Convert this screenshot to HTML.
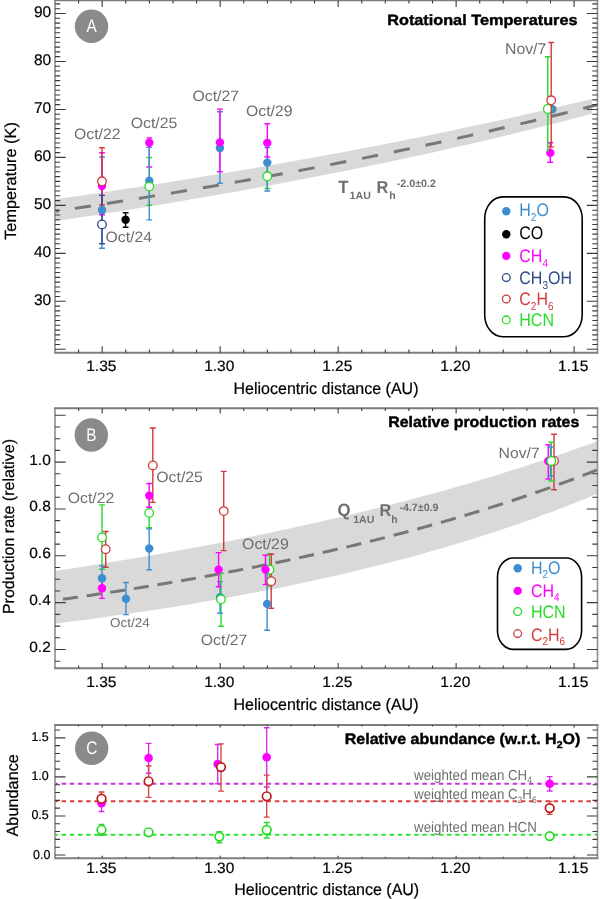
<!DOCTYPE html>
<html><head><meta charset="utf-8"><style>
html,body{margin:0;padding:0;background:#fff;width:600px;height:899px;overflow:hidden}
svg{display:block;will-change:transform;filter:blur(0.3px)}
text{font-family:"Liberation Sans", sans-serif;stroke-width:0.2px;text-rendering:geometricPrecision}
</style></head><body>
<svg width="600" height="899" viewBox="0 0 600 899" font-family='"Liberation Sans", sans-serif'>
<rect width="600" height="899" fill="#fff"/>
<path d="M55.00 199.41 L64.10 198.10 L73.20 196.78 L82.31 195.44 L91.41 194.10 L100.51 192.74 L109.61 191.38 L118.71 190.00 L127.81 188.61 L136.92 187.21 L146.02 185.80 L155.12 184.37 L164.22 182.94 L173.32 181.49 L182.42 180.03 L191.53 178.55 L200.63 177.07 L209.73 175.57 L218.83 174.06 L227.93 172.53 L237.03 171.00 L246.14 169.45 L255.24 167.88 L264.34 166.30 L273.44 164.71 L282.54 163.11 L291.64 161.49 L300.75 159.85 L309.85 158.21 L318.95 156.54 L328.05 154.87 L337.15 153.17 L346.25 151.47 L355.36 149.74 L364.46 148.00 L373.56 146.25 L382.66 144.48 L391.76 142.69 L400.86 140.89 L409.97 139.07 L419.07 137.24 L428.17 135.38 L437.27 133.51 L446.37 131.63 L455.47 129.72 L464.58 127.80 L473.68 125.86 L482.78 123.90 L491.88 121.92 L500.98 119.93 L510.08 117.91 L519.19 115.88 L528.29 113.83 L537.39 111.75 L546.49 109.66 L555.59 107.55 L564.69 105.42 L573.80 103.26 L582.90 101.09 L592.00 98.89 L592.00 113.84 L582.90 116.24 L573.80 118.61 L564.69 120.96 L555.59 123.28 L546.49 125.58 L537.39 127.86 L528.29 130.11 L519.19 132.34 L510.08 134.54 L500.98 136.73 L491.88 138.89 L482.78 141.02 L473.68 143.14 L464.58 145.24 L455.47 147.31 L446.37 149.36 L437.27 151.40 L428.17 153.41 L419.07 155.40 L409.97 157.37 L400.86 159.32 L391.76 161.26 L382.66 163.17 L373.56 165.07 L364.46 166.94 L355.36 168.80 L346.25 170.64 L337.15 172.46 L328.05 174.27 L318.95 176.05 L309.85 177.82 L300.75 179.58 L291.64 181.31 L282.54 183.03 L273.44 184.74 L264.34 186.42 L255.24 188.09 L246.14 189.75 L237.03 191.39 L227.93 193.01 L218.83 194.62 L209.73 196.22 L200.63 197.80 L191.53 199.36 L182.42 200.91 L173.32 202.45 L164.22 203.97 L155.12 205.48 L146.02 206.97 L136.92 208.45 L127.81 209.92 L118.71 211.38 L109.61 212.82 L100.51 214.25 L91.41 215.66 L82.31 217.06 L73.20 218.45 L64.10 219.83 L55.00 221.20Z" fill="#d9d9d9"/>
<path d="M55.00 211.34 L64.19 209.97 L73.37 208.60 L82.56 207.21 L91.75 205.81 L100.93 204.40 L110.12 202.97 L119.31 201.53 L128.49 200.08 L137.68 198.62 L146.86 197.14 L156.05 195.65 L165.24 194.15 L174.42 192.63 L183.61 191.10 L192.80 189.56 L201.98 188.00 L211.17 186.43 L220.36 184.84 L229.54 183.24 L238.73 181.62 L247.92 179.99 L257.10 178.34 L266.29 176.68 L275.47 175.01 L284.66 173.31 L293.85 171.61 L303.03 169.88 L312.22 168.14 L321.41 166.38 L330.59 164.61 L339.78 162.82 L348.97 161.01 L358.15 159.19 L367.34 157.35 L376.53 155.49 L385.71 153.61 L394.90 151.71 L404.08 149.80 L413.27 147.86 L422.46 145.91 L431.64 143.94 L440.83 141.95 L450.02 139.94 L459.20 137.91 L468.39 135.86 L477.58 133.79 L486.76 131.70 L495.95 129.58 L505.14 127.45 L514.32 125.29 L523.51 123.12 L532.69 120.92 L541.88 118.70 L551.07 116.45 L560.25 114.18 L569.44 111.89 L578.63 109.58 L587.81 107.24 L597.00 104.88" stroke="#777777" stroke-width="3" fill="none" stroke-dasharray="16.2 16.2" stroke-dashoffset="12.3"/>
<path d="M55 0.4V352.7M597.5 0.4V352.7" fill="none" stroke="#949494" stroke-width="1.7"/>
<path d="M54.15 0.4H598.35M54.15 352.7H598.35" fill="none" stroke="#7e7e7e" stroke-width="1.9"/>
<path d="M78.60 352.70V349.50M78.60 0.40V3.60M102.19 352.70V346.20M102.19 0.40V6.90M125.79 352.70V349.50M125.79 0.40V3.60M149.38 352.70V349.50M149.38 0.40V3.60M172.98 352.70V349.50M172.98 0.40V3.60M196.57 352.70V349.50M196.57 0.40V3.60M220.17 352.70V346.20M220.17 0.40V6.90M243.76 352.70V349.50M243.76 0.40V3.60M267.36 352.70V349.50M267.36 0.40V3.60M290.95 352.70V349.50M290.95 0.40V3.60M314.55 352.70V349.50M314.55 0.40V3.60M338.14 352.70V346.20M338.14 0.40V6.90M361.74 352.70V349.50M361.74 0.40V3.60M385.33 352.70V349.50M385.33 0.40V3.60M408.93 352.70V349.50M408.93 0.40V3.60M432.52 352.70V349.50M432.52 0.40V3.60M456.12 352.70V346.20M456.12 0.40V6.90M479.71 352.70V349.50M479.71 0.40V3.60M503.31 352.70V349.50M503.31 0.40V3.60M526.90 352.70V349.50M526.90 0.40V3.60M550.50 352.70V349.50M550.50 0.40V3.60M574.09 352.70V346.20M574.09 0.40V6.90M55 344.49H60.2M597.5 344.49H592.3M55 339.70H60.2M597.5 339.70H592.3M55 334.90H60.2M597.5 334.90H592.3M55 330.10H60.2M597.5 330.10H592.3M55 325.31H60.2M597.5 325.31H592.3M55 320.51H60.2M597.5 320.51H592.3M55 315.71H60.2M597.5 315.71H592.3M55 310.91H60.2M597.5 310.91H592.3M55 306.12H60.2M597.5 306.12H592.3M55 296.52H60.2M597.5 296.52H592.3M55 291.73H60.2M597.5 291.73H592.3M55 286.93H60.2M597.5 286.93H592.3M55 282.13H60.2M597.5 282.13H592.3M55 277.33H60.2M597.5 277.33H592.3M55 272.54H60.2M597.5 272.54H592.3M55 267.74H60.2M597.5 267.74H592.3M55 262.94H60.2M597.5 262.94H592.3M55 258.15H60.2M597.5 258.15H592.3M55 248.55H60.2M597.5 248.55H592.3M55 243.76H60.2M597.5 243.76H592.3M55 238.96H60.2M597.5 238.96H592.3M55 234.16H60.2M597.5 234.16H592.3M55 229.36H60.2M597.5 229.36H592.3M55 224.57H60.2M597.5 224.57H592.3M55 219.77H60.2M597.5 219.77H592.3M55 214.97H60.2M597.5 214.97H592.3M55 210.18H60.2M597.5 210.18H592.3M55 200.58H60.2M597.5 200.58H592.3M55 195.79H60.2M597.5 195.79H592.3M55 190.99H60.2M597.5 190.99H592.3M55 186.19H60.2M597.5 186.19H592.3M55 181.39H60.2M597.5 181.39H592.3M55 176.60H60.2M597.5 176.60H592.3M55 171.80H60.2M597.5 171.80H592.3M55 167.00H60.2M597.5 167.00H592.3M55 162.21H60.2M597.5 162.21H592.3M55 152.61H60.2M597.5 152.61H592.3M55 147.82H60.2M597.5 147.82H592.3M55 143.02H60.2M597.5 143.02H592.3M55 138.22H60.2M597.5 138.22H592.3M55 133.43H60.2M597.5 133.43H592.3M55 128.63H60.2M597.5 128.63H592.3M55 123.83H60.2M597.5 123.83H592.3M55 119.03H60.2M597.5 119.03H592.3M55 114.24H60.2M597.5 114.24H592.3M55 104.64H60.2M597.5 104.64H592.3M55 99.85H60.2M597.5 99.85H592.3M55 95.05H60.2M597.5 95.05H592.3M55 90.25H60.2M597.5 90.25H592.3M55 85.45H60.2M597.5 85.45H592.3M55 80.66H60.2M597.5 80.66H592.3M55 75.86H60.2M597.5 75.86H592.3M55 71.06H60.2M597.5 71.06H592.3M55 66.27H60.2M597.5 66.27H592.3M55 56.67H60.2M597.5 56.67H592.3M55 51.88H60.2M597.5 51.88H592.3M55 47.08H60.2M597.5 47.08H592.3M55 42.28H60.2M597.5 42.28H592.3M55 37.48H60.2M597.5 37.48H592.3M55 32.69H60.2M597.5 32.69H592.3M55 27.89H60.2M597.5 27.89H592.3M55 23.09H60.2M597.5 23.09H592.3M55 18.30H60.2M597.5 18.30H592.3M55 8.70H60.2M597.5 8.70H592.3M55 3.91H60.2M597.5 3.91H592.3M55 349.29H65.7M597.5 349.29H586.8M55 301.32H65.7M597.5 301.32H586.8M55 253.35H65.7M597.5 253.35H586.8M55 205.38H65.7M597.5 205.38H586.8M55 157.41H65.7M597.5 157.41H586.8M55 109.44H65.7M597.5 109.44H586.8M55 61.47H65.7M597.5 61.47H586.8M55 13.50H65.7M597.5 13.50H586.8" stroke="#3a3a3a" stroke-width="1.1" fill="none"/>
<text x="51.20" y="305.12" font-size="15.5" fill="#000" text-anchor="end"  stroke="#000">30</text>
<text x="51.20" y="257.15" font-size="15.5" fill="#000" text-anchor="end"  stroke="#000">40</text>
<text x="51.20" y="209.18" font-size="15.5" fill="#000" text-anchor="end"  stroke="#000">50</text>
<text x="51.20" y="161.21" font-size="15.5" fill="#000" text-anchor="end"  stroke="#000">60</text>
<text x="51.20" y="113.24" font-size="15.5" fill="#000" text-anchor="end"  stroke="#000">70</text>
<text x="51.20" y="65.27" font-size="15.5" fill="#000" text-anchor="end"  stroke="#000">80</text>
<text x="51.20" y="17.30" font-size="15.5" fill="#000" text-anchor="end"  stroke="#000">90</text>
<text transform="translate(101.29,370.80) scale(1,0.97)" font-size="15.5" fill="#000" text-anchor="middle"  stroke="#000">1.35</text>
<text transform="translate(219.27,370.80) scale(1,0.97)" font-size="15.5" fill="#000" text-anchor="middle"  stroke="#000">1.30</text>
<text transform="translate(337.24,370.80) scale(1,0.97)" font-size="15.5" fill="#000" text-anchor="middle"  stroke="#000">1.25</text>
<text transform="translate(455.22,370.80) scale(1,0.97)" font-size="15.5" fill="#000" text-anchor="middle"  stroke="#000">1.20</text>
<text transform="translate(573.19,370.80) scale(1,0.97)" font-size="15.5" fill="#000" text-anchor="middle"  stroke="#000">1.15</text>
<text transform="translate(326.00,393.50) scale(1,1.03)" font-size="16" fill="#000" text-anchor="middle"  stroke="#000">Heliocentric distance (AU)</text>
<text transform="translate(15.9,181) rotate(-90)" font-size="16.3" text-anchor="middle" stroke="#000">Temperature (K)</text>
<circle cx="91.5" cy="26.3" r="16.7" fill="#8a8a8a"/>
<text transform="translate(91.50,31.90) scale(0.93,1.1)" font-size="16.5" fill="#fff" text-anchor="middle" >A</text>
<text transform="translate(577.50,24.90) scale(1.016,0.93)" font-size="16" fill="#000" text-anchor="end" font-weight="bold" style="stroke-width:0.45px" stroke="#000">Rotational Temperatures</text>
<text transform="translate(74.00,138.80) scale(1.02,0.97)" font-size="15.5" fill="#6e6e6e" text-anchor="start" >Oct/22</text>
<text transform="translate(130.70,127.80) scale(1.02,0.97)" font-size="15.5" fill="#6e6e6e" text-anchor="start" >Oct/25</text>
<text transform="translate(192.50,101.30) scale(1.02,0.97)" font-size="15.5" fill="#6e6e6e" text-anchor="start" >Oct/27</text>
<text transform="translate(246.00,116.10) scale(1.02,0.97)" font-size="15.5" fill="#6e6e6e" text-anchor="start" >Oct/29</text>
<text transform="translate(105.50,241.90) scale(1.02,0.97)" font-size="15.5" fill="#6e6e6e" text-anchor="start" >Oct/24</text>
<text transform="translate(505.00,53.70) scale(1.02,1.0)" font-size="15.5" fill="#6e6e6e" text-anchor="start" >Nov/7</text>
<text transform="translate(338.2,192.6) scale(1,1.06)" font-size="16.8" font-weight="bold" fill="#6e6e6e">T</text>
<text x="349.6" y="198.6" font-size="10.6" font-weight="bold" fill="#6e6e6e">1AU</text>
<text transform="translate(376.6,192.6) scale(1,1.06)" font-size="16.3" font-weight="bold" fill="#6e6e6e">R</text>
<text x="389.2" y="198.6" font-size="10.6" font-weight="bold" fill="#6e6e6e">h</text>
<text x="396.8" y="187.2" font-size="10.7" font-weight="bold" fill="#6e6e6e">-2.0±0.2</text>
<path d="M102.00 157.00V248.30M99.10 157.00H104.90M99.10 248.30H104.90" stroke="#3d8ed1" stroke-width="1.4" fill="none"/>
<path d="M102.00 152.70V214.70M99.10 152.70H104.90M99.10 214.70H104.90" stroke="#ff00ff" stroke-width="1.4" fill="none"/>
<path d="M102.00 147.70V205.00M99.10 147.70H104.90M99.10 205.00H104.90" stroke="#d13b3b" stroke-width="1.4" fill="none"/>
<path d="M102.00 195.40V243.70M99.10 195.40H104.90M99.10 243.70H104.90" stroke="#2d4a8d" stroke-width="1.4" fill="none"/>
<circle cx="102.00" cy="210.00" r="4.2" fill="#3d8ed1"/>
<circle cx="102.00" cy="186.00" r="4.2" fill="#ff00ff"/>
<circle cx="102.00" cy="224.40" r="4.3" fill="#fff" stroke="#2d4a8d" stroke-width="1.3"/>
<circle cx="102.00" cy="181.30" r="4.3" fill="#fff" stroke="#d13b3b" stroke-width="1.3"/>
<path d="M125.60 212.80V227.20M122.70 212.80H128.50M122.70 227.20H128.50" stroke="#030303" stroke-width="1.4" fill="none"/>
<circle cx="125.60" cy="219.70" r="4.2" fill="#030303"/>
<path d="M149.30 137.90V167.00M146.40 137.90H152.20M146.40 167.00H152.20" stroke="#ff00ff" stroke-width="1.4" fill="none"/>
<path d="M149.30 157.50V205.30M146.40 157.50H152.20M146.40 205.30H152.20" stroke="#27dc27" stroke-width="1.4" fill="none"/>
<path d="M149.30 147.40V219.90M146.40 147.40H152.20M146.40 219.90H152.20" stroke="#3d8ed1" stroke-width="1.4" fill="none"/>
<circle cx="149.30" cy="180.70" r="4.2" fill="#3d8ed1"/>
<circle cx="149.30" cy="186.60" r="4.3" fill="#fff" stroke="#27dc27" stroke-width="1.3"/>
<circle cx="149.30" cy="142.70" r="4.2" fill="#ff00ff"/>
<path d="M219.90 111.70V183.30M217.00 111.70H222.80M217.00 183.30H222.80" stroke="#3d8ed1" stroke-width="1.4" fill="none"/>
<path d="M219.90 109.10V171.70M217.00 109.10H222.80M217.00 171.70H222.80" stroke="#ff00ff" stroke-width="1.4" fill="none"/>
<circle cx="219.90" cy="148.00" r="4.2" fill="#3d8ed1"/>
<circle cx="219.90" cy="142.40" r="4.2" fill="#ff00ff"/>
<path d="M267.30 164.00V188.50M264.40 164.00H270.20M264.40 188.50H270.20" stroke="#27dc27" stroke-width="1.4" fill="none"/>
<path d="M267.30 147.50V191.00M264.40 147.50H270.20M264.40 191.00H270.20" stroke="#3d8ed1" stroke-width="1.4" fill="none"/>
<path d="M267.30 123.70V157.00M264.40 123.70H270.20M264.40 157.00H270.20" stroke="#ff00ff" stroke-width="1.4" fill="none"/>
<circle cx="267.30" cy="162.60" r="4.2" fill="#3d8ed1"/>
<circle cx="267.30" cy="176.30" r="4.3" fill="#fff" stroke="#27dc27" stroke-width="1.3"/>
<circle cx="267.30" cy="142.90" r="4.2" fill="#ff00ff"/>
<circle cx="552.40" cy="109.20" r="4.2" fill="#3d8ed1"/>
<path d="M550.30 142.80V162.30M547.40 142.80H553.20M547.40 162.30H553.20" stroke="#ff00ff" stroke-width="1.4" fill="none"/>
<circle cx="550.30" cy="152.90" r="4.2" fill="#ff00ff"/>
<path d="M547.80 56.80V152.00M544.90 56.80H550.70" stroke="#27dc27" stroke-width="1.4" fill="none"/>
<circle cx="547.80" cy="109.00" r="4.3" fill="#fff" stroke="#27dc27" stroke-width="1.3"/>
<path d="M551.20 42.50V146.90M548.30 42.50H554.10M548.30 146.90H554.10" stroke="#d13b3b" stroke-width="1.4" fill="none"/>
<circle cx="551.20" cy="100.30" r="4.3" fill="#fff" stroke="#d13b3b" stroke-width="1.3"/>
<rect x="484.7" y="196.9" width="97.5" height="139.8" rx="18" ry="22" fill="#fff" stroke="#000" stroke-width="1.6"/>
<circle cx="506.30" cy="211.30" r="4.2" fill="#3d8ed1"/>
<text transform="translate(519.3,216.40) scale(1,1.14)" font-size="16" fill="#3d8ed1"><tspan>H</tspan><tspan font-size="10" dy="4.2">2</tspan><tspan dy="-4.2">O</tspan></text>
<circle cx="506.30" cy="234.20" r="4.2" fill="#030303"/>
<text transform="translate(519.3,239.30) scale(1,1.14)" font-size="16" fill="#030303"><tspan>CO</tspan></text>
<circle cx="506.30" cy="255.90" r="4.2" fill="#ff00ff"/>
<text transform="translate(519.3,261.90) scale(1,1.14)" font-size="16" fill="#ff00ff"><tspan>CH</tspan><tspan font-size="10" dy="4.2">4</tspan></text>
<circle cx="506.30" cy="277.60" r="3.9" fill="#fff" stroke="#2d4a8d" stroke-width="1.3"/>
<text transform="translate(519.3,284.00) scale(1,1.14)" font-size="16" fill="#2d4a8d"><tspan>CH</tspan><tspan font-size="10" dy="4.2">3</tspan><tspan dy="-4.2">OH</tspan></text>
<circle cx="506.30" cy="299.00" r="3.9" fill="#fff" stroke="#d13b3b" stroke-width="1.3"/>
<text transform="translate(519.3,305.20) scale(1,1.14)" font-size="16" fill="#d13b3b"><tspan>C</tspan><tspan font-size="10" dy="4.2">2</tspan><tspan dy="-4.2">H</tspan><tspan font-size="10" dy="4.2">6</tspan></text>
<circle cx="506.30" cy="319.90" r="3.9" fill="#fff" stroke="#27dc27" stroke-width="1.3"/>
<text transform="translate(519.3,326.20) scale(1,1.14)" font-size="16" fill="#27dc27"><tspan>HCN</tspan></text>
<path d="M55.00 570.94 L64.19 569.55 L73.39 568.14 L82.58 566.71 L91.78 565.26 L100.97 563.80 L110.17 562.31 L119.36 560.80 L128.56 559.26 L137.75 557.71 L146.95 556.13 L156.14 554.54 L165.34 552.92 L174.53 551.27 L183.73 549.60 L192.92 547.91 L202.12 546.19 L211.31 544.45 L220.51 542.68 L229.70 540.89 L238.90 539.07 L248.09 537.22 L257.29 535.35 L266.48 533.44 L275.68 531.51 L284.87 529.55 L294.07 527.56 L303.26 525.54 L312.46 523.49 L321.65 521.41 L330.85 519.30 L340.04 517.16 L349.24 514.98 L358.43 512.77 L367.63 510.53 L376.82 508.25 L386.02 505.93 L395.21 503.58 L404.41 501.19 L413.60 498.77 L422.80 496.31 L431.99 493.81 L441.19 491.27 L450.38 488.69 L459.58 486.06 L468.77 483.40 L477.97 480.69 L487.16 477.94 L496.36 475.15 L505.55 472.31 L514.75 469.43 L523.94 466.50 L533.14 463.52 L542.33 460.49 L551.53 457.41 L560.72 454.28 L569.92 451.10 L579.11 447.87 L588.31 444.58 L597.50 441.24 L597.50 493.61 L588.31 497.43 L579.11 501.18 L569.92 504.83 L560.72 508.41 L551.53 511.91 L542.33 515.34 L533.14 518.68 L523.94 521.96 L514.75 525.17 L505.55 528.30 L496.36 531.37 L487.16 534.37 L477.97 537.31 L468.77 540.19 L459.58 543.00 L450.38 545.76 L441.19 548.45 L431.99 551.09 L422.80 553.68 L413.60 556.21 L404.41 558.69 L395.21 561.11 L386.02 563.49 L376.82 565.82 L367.63 568.10 L358.43 570.33 L349.24 572.51 L340.04 574.66 L330.85 576.76 L321.65 578.81 L312.46 580.83 L303.26 582.80 L294.07 584.74 L284.87 586.63 L275.68 588.49 L266.48 590.31 L257.29 592.10 L248.09 593.85 L238.90 595.56 L229.70 597.24 L220.51 598.89 L211.31 600.51 L202.12 602.09 L192.92 603.65 L183.73 605.17 L174.53 606.67 L165.34 608.13 L156.14 609.57 L146.95 610.98 L137.75 612.36 L128.56 613.72 L119.36 615.05 L110.17 616.36 L100.97 617.64 L91.78 618.89 L82.58 620.13 L73.39 621.34 L64.19 622.53 L55.00 623.69Z" fill="#d9d9d9"/>
<path d="M63.00 599.25 L65.96 598.83 L68.92 598.41 L71.88 597.99 L74.84 597.56 L77.80 597.14M86.62 595.85 L89.58 595.42 L92.54 594.98 L95.50 594.54 L98.46 594.10 L101.42 593.65M110.24 592.31 L113.20 591.86 L116.16 591.40 L119.12 590.94 L122.08 590.48 L125.04 590.01M133.86 588.62 L136.82 588.14 L139.78 587.67 L142.74 587.19 L145.70 586.71 L148.66 586.22M157.48 584.76 L160.44 584.27 L163.40 583.77 L166.36 583.27 L169.32 582.77 L172.28 582.26M181.10 580.74 L184.06 580.22 L187.02 579.71 L189.98 579.18 L192.94 578.66 L195.90 578.13M204.72 576.54 L207.68 576.00 L210.64 575.46 L213.60 574.91 L216.56 574.37 L219.52 573.82M228.34 572.15 L231.30 571.59 L234.26 571.03 L237.22 570.46 L240.18 569.88 L243.14 569.31M251.96 567.57 L254.92 566.98 L257.88 566.39 L260.84 565.80 L263.80 565.20 L266.76 564.60M275.58 562.78 L278.54 562.17 L281.50 561.55 L284.46 560.93 L287.42 560.30 L290.38 559.67M299.20 557.78 L302.16 557.13 L305.12 556.49 L308.08 555.83 L311.04 555.18 L314.00 554.52M322.82 552.54 L325.78 551.87 L328.74 551.19 L331.70 550.51 L334.66 549.82 L337.62 549.14M346.44 547.06 L349.40 546.36 L352.36 545.65 L355.32 544.94 L358.28 544.22 L361.24 543.50M370.06 541.33 L373.02 540.59 L375.98 539.85 L378.94 539.10 L381.90 538.35 L384.86 537.60M393.68 535.32 L396.64 534.55 L399.60 533.77 L402.56 532.99 L405.52 532.21 L408.48 531.42M417.30 529.04 L420.26 528.23 L423.22 527.41 L426.18 526.59 L429.14 525.77 L432.10 524.94M440.92 522.45 L443.88 521.60 L446.84 520.75 L449.80 519.89 L452.76 519.03 L455.72 518.16M464.54 515.54 L467.50 514.65 L470.46 513.76 L473.42 512.86 L476.38 511.95 L479.34 511.04M488.16 508.30 L491.12 507.37 L494.08 506.43 L497.04 505.49 L500.00 504.54 L502.96 503.58M511.78 500.70 L514.74 499.73 L517.70 498.74 L520.66 497.75 L523.62 496.76 L526.58 495.75M535.40 492.73 L538.36 491.71 L541.32 490.67 L544.28 489.63 L547.24 488.59 L550.20 487.54M559.02 484.36 L561.98 483.28 L564.94 482.20 L567.90 481.11 L570.86 480.01 L573.82 478.91M582.64 475.57 L585.51 474.47 L588.38 473.37 L591.26 472.26 L594.13 471.14 L597.00 470.01" stroke="#777777" stroke-width="3" fill="none"/>
<path d="M55 408.3V668.2M597.5 408.3V668.2" fill="none" stroke="#949494" stroke-width="1.7"/>
<path d="M54.15 408.3H598.35M54.15 668.2H598.35" fill="none" stroke="#7e7e7e" stroke-width="1.9"/>
<path d="M78.60 668.20V665.40M78.60 408.30V411.10M102.19 668.20V662.90M102.19 408.30V413.60M125.79 668.20V665.40M125.79 408.30V411.10M149.38 668.20V665.40M149.38 408.30V411.10M172.98 668.20V665.40M172.98 408.30V411.10M196.57 668.20V665.40M196.57 408.30V411.10M220.17 668.20V662.90M220.17 408.30V413.60M243.76 668.20V665.40M243.76 408.30V411.10M267.36 668.20V665.40M267.36 408.30V411.10M290.95 668.20V665.40M290.95 408.30V411.10M314.55 668.20V665.40M314.55 408.30V411.10M338.14 668.20V662.90M338.14 408.30V413.60M361.74 668.20V665.40M361.74 408.30V411.10M385.33 668.20V665.40M385.33 408.30V411.10M408.93 668.20V665.40M408.93 408.30V411.10M432.52 668.20V665.40M432.52 408.30V411.10M456.12 668.20V662.90M456.12 408.30V413.60M479.71 668.20V665.40M479.71 408.30V411.10M503.31 668.20V665.40M503.31 408.30V411.10M526.90 668.20V665.40M526.90 408.30V411.10M550.50 668.20V665.40M550.50 408.30V411.10M574.09 668.20V662.90M574.09 408.30V413.60M55 661.21H60.2M597.5 661.21H592.3M55 637.79H60.2M597.5 637.79H592.3M55 626.08H60.2M597.5 626.08H592.3M55 614.36H60.2M597.5 614.36H592.3M55 590.94H60.2M597.5 590.94H592.3M55 579.23H60.2M597.5 579.23H592.3M55 567.51H60.2M597.5 567.51H592.3M55 544.09H60.2M597.5 544.09H592.3M55 532.38H60.2M597.5 532.38H592.3M55 520.66H60.2M597.5 520.66H592.3M55 497.24H60.2M597.5 497.24H592.3M55 485.53H60.2M597.5 485.53H592.3M55 473.81H60.2M597.5 473.81H592.3M55 450.39H60.2M597.5 450.39H592.3M55 438.68H60.2M597.5 438.68H592.3M55 426.96H60.2M597.5 426.96H592.3M55 649.50H65.7M597.5 649.50H586.8M55 602.65H65.7M597.5 602.65H586.8M55 555.80H65.7M597.5 555.80H586.8M55 508.95H65.7M597.5 508.95H586.8M55 462.10H65.7M597.5 462.10H586.8M55 415.25H65.7M597.5 415.25H586.8" stroke="#3a3a3a" stroke-width="1.1" fill="none"/>
<text transform="translate(50.80,651.90) scale(1,0.95)" font-size="15.5" fill="#000" text-anchor="end"  stroke="#000">0.2</text>
<text transform="translate(50.80,605.05) scale(1,0.95)" font-size="15.5" fill="#000" text-anchor="end"  stroke="#000">0.4</text>
<text transform="translate(50.80,558.20) scale(1,0.95)" font-size="15.5" fill="#000" text-anchor="end"  stroke="#000">0.6</text>
<text transform="translate(50.80,511.35) scale(1,0.95)" font-size="15.5" fill="#000" text-anchor="end"  stroke="#000">0.8</text>
<text transform="translate(50.80,464.50) scale(1,0.95)" font-size="15.5" fill="#000" text-anchor="end"  stroke="#000">1.0</text>
<text transform="translate(101.29,687.00) scale(1,0.97)" font-size="15.5" fill="#000" text-anchor="middle"  stroke="#000">1.35</text>
<text transform="translate(219.27,687.00) scale(1,0.97)" font-size="15.5" fill="#000" text-anchor="middle"  stroke="#000">1.30</text>
<text transform="translate(337.24,687.00) scale(1,0.97)" font-size="15.5" fill="#000" text-anchor="middle"  stroke="#000">1.25</text>
<text transform="translate(455.22,687.00) scale(1,0.97)" font-size="15.5" fill="#000" text-anchor="middle"  stroke="#000">1.20</text>
<text transform="translate(573.19,687.00) scale(1,0.97)" font-size="15.5" fill="#000" text-anchor="middle"  stroke="#000">1.15</text>
<text transform="translate(326.00,709.80) scale(1,1.03)" font-size="16" fill="#000" text-anchor="middle"  stroke="#000">Heliocentric distance (AU)</text>
<text transform="translate(13.7,526.5) rotate(-90)" font-size="16" text-anchor="middle" stroke="#000">Production rate (relative)</text>
<circle cx="91.3" cy="435" r="16.7" fill="#8a8a8a"/>
<text transform="translate(91.30,440.60) scale(0.93,1.1)" font-size="16.5" fill="#fff" text-anchor="middle" >B</text>
<text transform="translate(579.30,427.10) scale(0.995,0.95)" font-size="16" fill="#000" text-anchor="end" font-weight="bold" style="stroke-width:0.45px" stroke="#000">Relative production rates</text>
<text transform="translate(67.70,502.70) scale(1.02,0.97)" font-size="15.5" fill="#6e6e6e" text-anchor="start" >Oct/22</text>
<text transform="translate(156.30,482.00) scale(1.02,0.97)" font-size="15.5" fill="#6e6e6e" text-anchor="start" >Oct/25</text>
<text transform="translate(200.80,644.50) scale(1.02,0.97)" font-size="15.5" fill="#6e6e6e" text-anchor="start" >Oct/27</text>
<text transform="translate(242.10,548.80) scale(1.02,0.97)" font-size="15.5" fill="#6e6e6e" text-anchor="start" >Oct/29</text>
<text transform="translate(110.10,626.70) scale(1.02,0.97)" font-size="13.2" fill="#6e6e6e" text-anchor="start" >Oct/24</text>
<text transform="translate(498.50,457.70) scale(1.02,0.97)" font-size="15.5" fill="#6e6e6e" text-anchor="start" >Nov/7</text>
<text transform="translate(337.6,516.2) scale(1,1.06)" font-size="16.8" font-weight="bold" fill="#6e6e6e">Q</text>
<text x="353.2" y="522.6" font-size="10.6" font-weight="bold" fill="#6e6e6e">1AU</text>
<text transform="translate(379.6,516.2) scale(1,1.06)" font-size="16.3" font-weight="bold" fill="#6e6e6e">R</text>
<text x="391.2" y="522.6" font-size="10.6" font-weight="bold" fill="#6e6e6e">h</text>
<text x="399.4" y="511.2" font-size="10.7" font-weight="bold" fill="#6e6e6e">-4.7±0.9</text>
<path d="M102.00 504.90V569.20M99.10 504.90H104.90M99.10 569.20H104.90" stroke="#27dc27" stroke-width="1.4" fill="none"/>
<path d="M105.70 531.50V567.30M102.80 531.50H108.60M102.80 567.30H108.60" stroke="#d13b3b" stroke-width="1.4" fill="none"/>
<path d="M102.00 565.90V589.70M99.10 565.90H104.90M99.10 589.70H104.90" stroke="#3d8ed1" stroke-width="1.4" fill="none"/>
<path d="M102.00 580.00V598.40M99.10 580.00H104.90M99.10 598.40H104.90" stroke="#ff00ff" stroke-width="1.4" fill="none"/>
<circle cx="102.00" cy="537.40" r="4.3" fill="#fff" stroke="#27dc27" stroke-width="1.3"/>
<circle cx="105.70" cy="549.20" r="4.3" fill="#fff" stroke="#d13b3b" stroke-width="1.3"/>
<circle cx="102.00" cy="578.20" r="4.2" fill="#3d8ed1"/>
<circle cx="102.00" cy="588.30" r="4.2" fill="#ff00ff"/>
<path d="M126.00 582.50V614.60M123.10 582.50H128.90M123.10 614.60H128.90" stroke="#3d8ed1" stroke-width="1.4" fill="none"/>
<circle cx="126.00" cy="598.70" r="4.2" fill="#3d8ed1"/>
<path d="M152.80 428.00V502.40M149.90 428.00H155.70M149.90 502.40H155.70" stroke="#d13b3b" stroke-width="1.4" fill="none"/>
<path d="M149.20 496.00V527.70M146.30 527.70H152.10" stroke="#27dc27" stroke-width="1.4" fill="none"/>
<path d="M149.20 528.90V569.80M146.30 528.90H152.10M146.30 569.80H152.10" stroke="#3d8ed1" stroke-width="1.4" fill="none"/>
<path d="M149.20 483.50V507.20M146.30 483.50H152.10M146.30 507.20H152.10" stroke="#ff00ff" stroke-width="1.4" fill="none"/>
<circle cx="152.80" cy="465.40" r="4.3" fill="#fff" stroke="#d13b3b" stroke-width="1.3"/>
<circle cx="149.20" cy="495.60" r="4.2" fill="#ff00ff"/>
<circle cx="149.20" cy="512.90" r="4.3" fill="#fff" stroke="#27dc27" stroke-width="1.3"/>
<circle cx="149.20" cy="548.50" r="4.2" fill="#3d8ed1"/>
<path d="M223.70 471.40V550.60M220.80 471.40H226.60M220.80 550.60H226.60" stroke="#d13b3b" stroke-width="1.4" fill="none"/>
<circle cx="223.70" cy="511.10" r="4.3" fill="#fff" stroke="#d13b3b" stroke-width="1.3"/>
<path d="M221.00 573.20V626.30M218.10 573.20H223.90M218.10 626.30H223.90" stroke="#27dc27" stroke-width="1.4" fill="none"/>
<path d="M220.00 581.60V613.30M217.10 581.60H222.90M217.10 613.30H222.90" stroke="#3d8ed1" stroke-width="1.4" fill="none"/>
<path d="M218.60 552.60V586.70M215.70 552.60H221.50M215.70 586.70H221.50" stroke="#ff00ff" stroke-width="1.4" fill="none"/>
<circle cx="220.00" cy="597.30" r="4.2" fill="#3d8ed1"/>
<circle cx="218.60" cy="569.60" r="4.2" fill="#ff00ff"/>
<circle cx="221.00" cy="599.30" r="4.3" fill="#fff" stroke="#27dc27" stroke-width="1.3"/>
<path d="M267.10 570.00V630.30M264.20 570.00H270.00M264.20 630.30H270.00" stroke="#3d8ed1" stroke-width="1.4" fill="none"/>
<path d="M269.50 553.60V586.00M266.60 553.60H272.40M266.60 586.00H272.40" stroke="#27dc27" stroke-width="1.4" fill="none"/>
<path d="M271.20 554.20V608.30M268.30 554.20H274.10M268.30 608.30H274.10" stroke="#d13b3b" stroke-width="1.4" fill="none"/>
<path d="M265.50 555.20V584.60M262.60 555.20H268.40M262.60 584.60H268.40" stroke="#ff00ff" stroke-width="1.4" fill="none"/>
<circle cx="267.10" cy="603.90" r="4.2" fill="#3d8ed1"/>
<circle cx="269.50" cy="569.60" r="4.3" fill="#fff" stroke="#27dc27" stroke-width="1.3"/>
<circle cx="265.50" cy="569.60" r="4.2" fill="#ff00ff"/>
<circle cx="271.20" cy="581.20" r="4.3" fill="#fff" stroke="#d13b3b" stroke-width="1.3"/>
<path d="M554.00 434.30V489.70M551.10 434.30H556.90M551.10 489.70H556.90" stroke="#d13b3b" stroke-width="1.4" fill="none"/>
<path d="M548.30 444.70V479.00M545.40 444.70H551.20M545.40 479.00H551.20" stroke="#ff00ff" stroke-width="1.4" fill="none"/>
<path d="M551.30 442.30V481.00M548.40 442.30H554.20M548.40 481.00H554.20" stroke="#27dc27" stroke-width="1.4" fill="none"/>
<path d="M550.50 447.00V476.00M547.60 447.00H553.40M547.60 476.00H553.40" stroke="#3d8ed1" stroke-width="1.4" fill="none"/>
<circle cx="554.00" cy="461.00" r="4.3" fill="#fff" stroke="#d13b3b" stroke-width="1.3"/>
<circle cx="548.30" cy="461.00" r="4.2" fill="#ff00ff"/>
<circle cx="550.50" cy="461.00" r="4.2" fill="#3d8ed1"/>
<circle cx="551.30" cy="461.00" r="4.3" fill="#fff" stroke="#27dc27" stroke-width="1.3"/>
<rect x="497.5" y="558" width="84.1" height="91.4" rx="15.5" ry="19" fill="#fff" stroke="#000" stroke-width="1.6"/>
<circle cx="517.70" cy="568.20" r="4.2" fill="#3d8ed1"/>
<text transform="translate(530.9,573.50) scale(1,1.14)" font-size="16" fill="#3d8ed1"><tspan>H</tspan><tspan font-size="10" dy="4.2">2</tspan><tspan dy="-4.2">O</tspan></text>
<circle cx="517.70" cy="590.90" r="4.2" fill="#ff00ff"/>
<text transform="translate(530.9,596.60) scale(1,1.14)" font-size="16" fill="#ff00ff"><tspan>CH</tspan><tspan font-size="10" dy="4.2">4</tspan></text>
<circle cx="517.70" cy="611.50" r="3.9" fill="#fff" stroke="#27dc27" stroke-width="1.3"/>
<text transform="translate(530.9,617.80) scale(1,1.14)" font-size="16" fill="#27dc27"><tspan>HCN</tspan></text>
<circle cx="517.70" cy="633.60" r="3.9" fill="#fff" stroke="#d13b3b" stroke-width="1.3"/>
<text transform="translate(530.9,640.50) scale(1,1.14)" font-size="16" fill="#d13b3b"><tspan>C</tspan><tspan font-size="10" dy="4.2">2</tspan><tspan dy="-4.2">H</tspan><tspan font-size="10" dy="4.2">6</tspan></text>
<path d="M55 783.80H597" stroke="#c832dc" stroke-width="2" stroke-dasharray="4.5 3.7" stroke-dashoffset="1.6"/>
<path d="M55 801.18H597" stroke="#d94040" stroke-width="2" stroke-dasharray="4.5 3.7" stroke-dashoffset="1.6"/>
<path d="M55 834.76H597" stroke="#2ee62e" stroke-width="2" stroke-dasharray="4.5 3.7" stroke-dashoffset="1.6"/>
<path d="M55 725V858.3M597.5 725V858.3" fill="none" stroke="#949494" stroke-width="1.7"/>
<path d="M54.15 725H598.35M54.15 858.3H598.35" fill="none" stroke="#7e7e7e" stroke-width="1.9"/>
<path d="M78.60 858.30V856.80M78.60 725.00V726.50M102.19 858.30V855.70M102.19 725.00V727.60M125.79 858.30V856.80M125.79 725.00V726.50M149.38 858.30V856.80M149.38 725.00V726.50M172.98 858.30V856.80M172.98 725.00V726.50M196.57 858.30V856.80M196.57 725.00V726.50M220.17 858.30V855.70M220.17 725.00V727.60M243.76 858.30V856.80M243.76 725.00V726.50M267.36 858.30V856.80M267.36 725.00V726.50M290.95 858.30V856.80M290.95 725.00V726.50M314.55 858.30V856.80M314.55 725.00V726.50M338.14 858.30V855.70M338.14 725.00V727.60M361.74 858.30V856.80M361.74 725.00V726.50M385.33 858.30V856.80M385.33 725.00V726.50M408.93 858.30V856.80M408.93 725.00V726.50M432.52 858.30V856.80M432.52 725.00V726.50M456.12 858.30V855.70M456.12 725.00V727.60M479.71 858.30V856.80M479.71 725.00V726.50M503.31 858.30V856.80M503.31 725.00V726.50M526.90 858.30V856.80M526.90 725.00V726.50M550.50 858.30V856.80M550.50 725.00V726.50M574.09 858.30V855.70M574.09 725.00V727.60M55 847.19H60M597.5 847.19H592.5M55 839.38H60M597.5 839.38H592.5M55 831.57H60M597.5 831.57H592.5M55 823.76H60M597.5 823.76H592.5M55 808.14H60M597.5 808.14H592.5M55 800.33H60M597.5 800.33H592.5M55 792.52H60M597.5 792.52H592.5M55 784.71H60M597.5 784.71H592.5M55 769.09H60M597.5 769.09H592.5M55 761.28H60M597.5 761.28H592.5M55 753.47H60M597.5 753.47H592.5M55 745.66H60M597.5 745.66H592.5M55 730.04H60M597.5 730.04H592.5M55 855.00H65.5M597.5 855.00H587.0M55 815.95H65.5M597.5 815.95H587.0M55 776.90H65.5M597.5 776.90H587.0M55 737.85H65.5M597.5 737.85H587.0" stroke="#3a3a3a" stroke-width="1.1" fill="none"/>
<text transform="translate(50.40,859.40) scale(1,1.02)" font-size="12.5" fill="#000" text-anchor="end"  stroke="#000">0.0</text>
<text transform="translate(48.80,819.10) scale(1,1.02)" font-size="12.5" fill="#000" text-anchor="end"  stroke="#000">0.5</text>
<text transform="translate(48.80,779.70) scale(1,1.02)" font-size="12.5" fill="#000" text-anchor="end"  stroke="#000">1.0</text>
<text transform="translate(48.80,740.70) scale(1,1.02)" font-size="12.5" fill="#000" text-anchor="end"  stroke="#000">1.5</text>
<text transform="translate(101.29,872.60) scale(1,0.97)" font-size="15.5" fill="#000" text-anchor="middle"  stroke="#000">1.35</text>
<text transform="translate(219.27,872.60) scale(1,0.97)" font-size="15.5" fill="#000" text-anchor="middle"  stroke="#000">1.30</text>
<text transform="translate(337.24,872.60) scale(1,0.97)" font-size="15.5" fill="#000" text-anchor="middle"  stroke="#000">1.25</text>
<text transform="translate(455.22,872.60) scale(1,0.97)" font-size="15.5" fill="#000" text-anchor="middle"  stroke="#000">1.20</text>
<text transform="translate(573.19,872.60) scale(1,0.97)" font-size="15.5" fill="#000" text-anchor="middle"  stroke="#000">1.15</text>
<text transform="translate(326.70,895.00) scale(1,1.03)" font-size="16" fill="#000" text-anchor="middle"  stroke="#000">Heliocentric distance (AU)</text>
<text transform="translate(18.3,795.3) rotate(-90)" font-size="16.3" text-anchor="middle" stroke="#000">Abundance</text>
<circle cx="91.7" cy="748.3" r="16.7" fill="#8a8a8a"/>
<text transform="translate(91.70,753.90) scale(0.93,1.1)" font-size="16.5" fill="#fff" text-anchor="middle" >C</text>
<text transform="translate(580.3,744.4) scale(1,0.95)" font-size="16" font-weight="bold" text-anchor="end" style="stroke-width:0.45px" stroke="#000">Relative abundance (w.r.t. H<tspan font-size="10.5" dy="4">2</tspan><tspan dy="-4">O)</tspan></text>
<text transform="translate(414.1,779.5) scale(1,1.1)" font-size="13.3" fill="#6e6e6e"><tspan>weighted mean CH</tspan><tspan font-size="8.5" dy="3.6">4</tspan></text>
<text transform="translate(414.1,798.6) scale(1,1.1)" font-size="13.3" fill="#6e6e6e"><tspan>weighted mean C</tspan><tspan font-size="8.5" dy="3.6">2</tspan><tspan dy="-3.6">H</tspan><tspan font-size="8.5" dy="3.6">6</tspan></text>
<text transform="translate(414.1,831.5) scale(1,1.1)" font-size="13.3" fill="#6e6e6e"><tspan>weighted mean HCN</tspan></text>
<path d="M101.50 792.00V806.00M98.60 792.00H104.40M98.60 806.00H104.40" stroke="#d44444" stroke-width="1.35" fill="none"/>
<path d="M101.50 796.00V811.50M98.60 796.00H104.40M98.60 811.50H104.40" stroke="#dc28ea" stroke-width="1.35" fill="none"/>
<circle cx="101.50" cy="803.30" r="4.3" fill="#ff00ff"/>
<circle cx="101.50" cy="798.70" r="4.3" fill="#fff" stroke="#bd1a1a" stroke-width="1.7"/>
<path d="M101.50 824.50V835.40M98.60 824.50H104.40M98.60 835.40H104.40" stroke="#2cd82c" stroke-width="1.35" fill="none"/>
<circle cx="101.50" cy="829.80" r="4.3" fill="#fff" stroke="#27dc27" stroke-width="1.7"/>
<path d="M148.60 743.30V773.20M145.70 743.30H151.50M145.70 773.20H151.50" stroke="#dc28ea" stroke-width="1.35" fill="none"/>
<circle cx="148.60" cy="758.00" r="4.3" fill="#ff00ff"/>
<path d="M148.60 766.00V797.40M145.70 766.00H151.50M145.70 797.40H151.50" stroke="#d44444" stroke-width="1.35" fill="none"/>
<circle cx="148.60" cy="781.30" r="4.3" fill="#fff" stroke="#bd1a1a" stroke-width="1.7"/>
<circle cx="148.60" cy="832.30" r="4.3" fill="#fff" stroke="#27dc27" stroke-width="1.7"/>
<path d="M217.70 744.50V783.70M214.80 744.50H220.60M214.80 783.70H220.60" stroke="#dc28ea" stroke-width="1.35" fill="none"/>
<circle cx="217.70" cy="764.00" r="4.3" fill="#ff00ff"/>
<path d="M221.00 743.80V791.10M218.10 743.80H223.90M218.10 791.10H223.90" stroke="#d44444" stroke-width="1.35" fill="none"/>
<circle cx="221.00" cy="767.10" r="4.3" fill="#fff" stroke="#bd1a1a" stroke-width="1.7"/>
<path d="M219.30 831.70V842.70M216.40 831.70H222.20M216.40 842.70H222.20" stroke="#2cd82c" stroke-width="1.35" fill="none"/>
<circle cx="219.30" cy="836.60" r="4.3" fill="#fff" stroke="#27dc27" stroke-width="1.7"/>
<path d="M266.70 727.70V787.00M263.80 727.70H269.60M263.80 787.00H269.60" stroke="#dc28ea" stroke-width="1.35" fill="none"/>
<circle cx="266.70" cy="757.30" r="4.3" fill="#ff00ff"/>
<path d="M266.70 775.10V817.10M263.80 775.10H269.60M263.80 817.10H269.60" stroke="#d44444" stroke-width="1.35" fill="none"/>
<circle cx="266.70" cy="796.30" r="4.3" fill="#fff" stroke="#bd1a1a" stroke-width="1.7"/>
<path d="M266.70 822.50V838.00M263.80 822.50H269.60M263.80 838.00H269.60" stroke="#2cd82c" stroke-width="1.35" fill="none"/>
<circle cx="266.70" cy="830.00" r="4.3" fill="#fff" stroke="#27dc27" stroke-width="1.7"/>
<path d="M549.70 776.60V791.00M546.80 776.60H552.60M546.80 791.00H552.60" stroke="#dc28ea" stroke-width="1.35" fill="none"/>
<circle cx="549.70" cy="783.80" r="4.3" fill="#ff00ff"/>
<path d="M549.70 801.30V814.30M546.80 801.30H552.60M546.80 814.30H552.60" stroke="#d44444" stroke-width="1.35" fill="none"/>
<circle cx="549.70" cy="808.10" r="4.3" fill="#fff" stroke="#bd1a1a" stroke-width="1.7"/>
<circle cx="549.70" cy="836.10" r="4.3" fill="#fff" stroke="#27dc27" stroke-width="1.7"/>
</svg>
</body></html>
